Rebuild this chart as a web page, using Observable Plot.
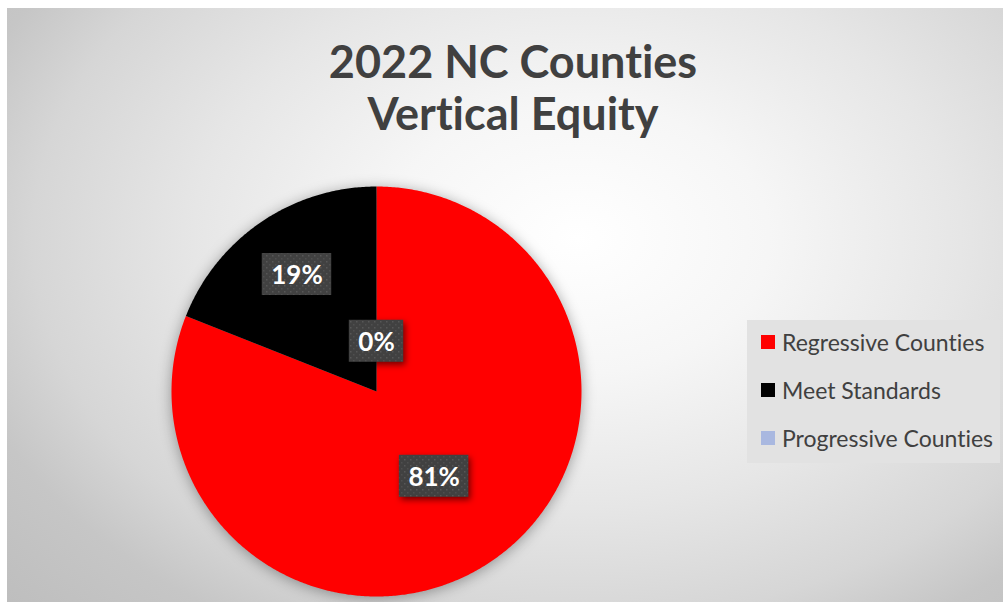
<!DOCTYPE html>
<html>
<head>
<meta charset="utf-8">
<script src="https://cdn.jsdelivr.net/npm/d3@7"></script>
<script src="https://cdn.jsdelivr.net/npm/@observablehq/plot@0.6"></script>
<style>
  html, body { margin: 0; padding: 0; background: #ffffff; }
  #chart {
    position: absolute; left: 7px; top: 8px; width: 996px; height: 594px; overflow: hidden;
    background: radial-gradient(ellipse 640px 450px at 570px 230px,
      #ffffff 0%, #f6f6f6 30%, #e6e6e6 60%, #d6d6d6 85%, #c6c6c6 100%, #bebebe 120%);
    font-family: Lato, "Open Sans", sans-serif;
    font-variant-ligatures: none; font-feature-settings: "liga" 0;
  }
  #title {
    position: absolute; left: 206px; top: 27px; width: 600px; text-align: center;
    font-weight: bold; font-size: 45px; line-height: 52px; color: #404040;
  }
  #plot { position: absolute; left: 0; top: 0; }
  #legend {
    position: absolute; left: 740px; top: 312px; width: 253px; height: 143px;
    background: #e2e2e2; box-sizing: border-box;
  }
  .item { position: relative; top: -2px; height: 48px; display: flex; align-items: center; font-size: 23px; color: #404040; }
  .sw { width: 14px; height: 14px; margin-left: 14px; margin-right: 7px; flex: none; }
  g[aria-label="line"] { filter: drop-shadow(0px 2px 7px rgba(0,0,0,0.35)); }
  g[aria-label="rect"] rect { filter: drop-shadow(2px 3px 3px rgba(0,0,0,0.55)); }
  svg text { font-variant-ligatures: none; }
</style>
</head>
<body>
<div id="chart">
  <div id="title"></div>
  <div id="plot"></div>
  <div id="legend"></div>
</div>
<script>
// ---- data ----
const titleLines = ["2022 NC Counties", "Vertical Equity"];
const categories = ["Regressive Counties", "Meet Standards", "Progressive Counties"];
const values = [81, 19, 0];
const labels = ["81%", "19%", "0%"];
const colors = ["#FF0000", "#000000", "#A9B8E0"];
// label distance from centre as a fraction of the radius (styling)
const labelRadius = [0.50, 0.69, 0.245];

// ---- geometry (layout) ----
const W = 996, H = 594, R = 205, CX = 369, CY = 383;

const pie = d3.pie().sort(null).value(d => d.value)(
  categories.map((c, i) => ({ cat: c, value: values[i], label: labels[i], lr: labelRadius[i] }))
);

// slice outlines in radius units (angle measured clockwise from 12 o'clock)
const slicePts = [];
for (const a of pie) {
  if (a.endAngle - a.startAngle <= 0) continue;
  const n = Math.max(2, Math.ceil((a.endAngle - a.startAngle) / (Math.PI / 360)));
  slicePts.push({ cat: a.data.cat, x: 0, y: 0 });
  for (let k = 0; k <= n; k++) {
    const t = a.startAngle + (a.endAngle - a.startAngle) * k / n;
    slicePts.push({ cat: a.data.cat, x: Math.sin(t), y: Math.cos(t) });
  }
  slicePts.push({ cat: a.data.cat, x: 0, y: 0 });
}

// label boxes
const FS = 26;
const ctx = document.createElement("canvas").getContext("2d");
ctx.font = `bold ${FS}px Lato`;
const labelData = pie.map(a => {
  const m = (a.startAngle + a.endAngle) / 2;
  const lx = Math.sin(m) * a.data.lr, ly = Math.cos(m) * a.data.lr;
  const bw = (ctx.measureText(a.data.label).width + 18) / R, bh = 42 / R;
  return { label: a.data.label, x: lx, y: ly, x1: lx - bw / 2, x2: lx + bw / 2, y1: ly - bh / 2, y2: ly + bh / 2 };
});

const plot = Plot.plot({
  width: W, height: H, margin: 0,
  style: { background: "transparent", overflow: "visible" },
  x: { domain: [-CX / R, (W - CX) / R], axis: null },
  y: { domain: [-(H - CY) / R, CY / R], axis: null },
  color: { domain: categories, range: colors },
  marks: [
    Plot.line(slicePts, { x: "x", y: "y", z: "cat", fill: "cat", stroke: "none", curve: "linear" }),
    Plot.rect(labelData, { x1: "x1", x2: "x2", y1: "y1", y2: "y2", fill: "url(#dotpat)" }),
    Plot.text(labelData, { x: "x", y: "y", text: "label", fill: "#ffffff", fontSize: FS, fontWeight: "bold",
      fontFamily: "Lato, 'Open Sans', sans-serif", dy: 1 })
  ]
});
// dotted texture for label boxes
const defs = document.createElementNS("http://www.w3.org/2000/svg", "defs");
defs.innerHTML = `<pattern id="dotpat" width="6" height="6" patternUnits="userSpaceOnUse">
  <rect width="6" height="6" fill="#414141"/>
  <rect x="1" y="1" width="1.5" height="1.5" fill="#575757"/>
  <rect x="4" y="4" width="1.5" height="1.5" fill="#4f4f4f"/>
</pattern>`;
plot.insertBefore(defs, plot.firstChild);
document.getElementById("plot").appendChild(plot);

// legend
const lg = document.getElementById("legend");
categories.forEach((c, i) => {
  const it = document.createElement("div"); it.className = "item";
  const sw = document.createElement("div"); sw.className = "sw"; sw.style.background = colors[i];
  const tx = document.createElement("span"); tx.textContent = c;
  it.appendChild(sw); it.appendChild(tx); lg.appendChild(it);
});
document.getElementById("title").innerHTML = titleLines.join("<br>");
</script>
</body>
</html>
